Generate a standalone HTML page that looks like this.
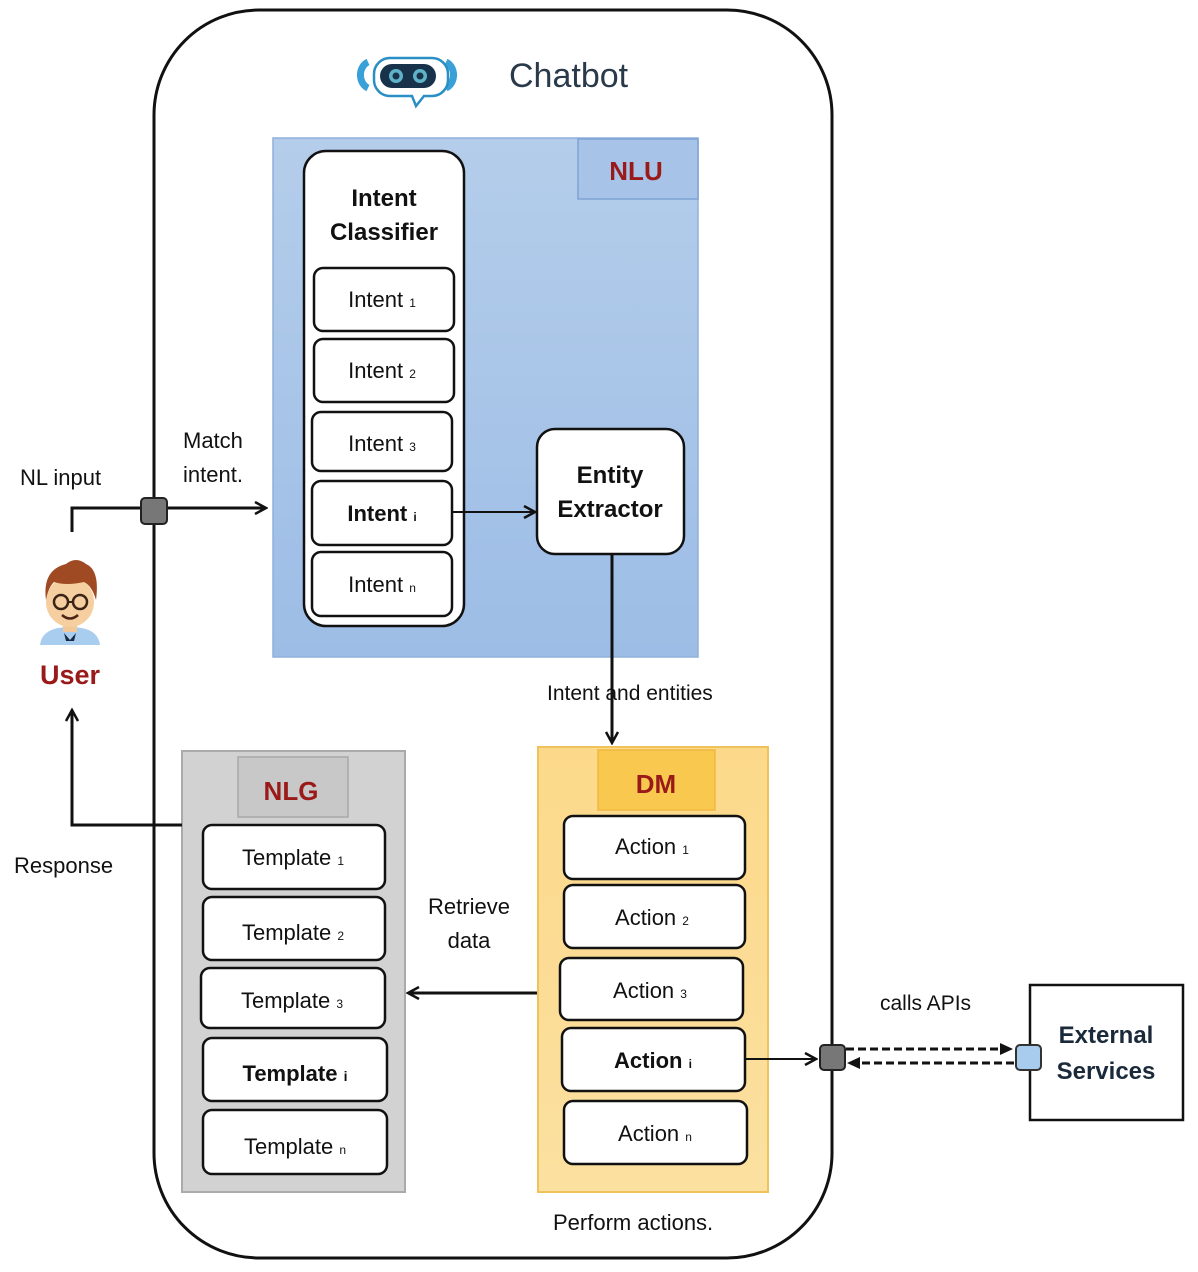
<!DOCTYPE html>
<html><head><meta charset="utf-8"><style>
html,body{margin:0;padding:0;background:#fff;}
svg{display:block;font-family:"Liberation Sans","DejaVu Sans",sans-serif;}
</style></head><body>
<svg width="1198" height="1272" viewBox="0 0 1198 1272" xmlns="http://www.w3.org/2000/svg">
<defs>
<linearGradient id="nlu" x1="0" y1="0" x2="0" y2="1"><stop offset="0" stop-color="#b4cdea"/><stop offset="1" stop-color="#9dbde6"/></linearGradient>
<linearGradient id="dm" x1="0" y1="0" x2="0" y2="1"><stop offset="0" stop-color="#fcd98a"/><stop offset="1" stop-color="#fbe0a0"/></linearGradient>
<marker id="ar" markerWidth="14" markerHeight="14" refX="12" refY="7" orient="auto" markerUnits="userSpaceOnUse"><path d="M1,1 L12,7 L1,13" fill="none" stroke="#111" stroke-width="2.5"/></marker>
<marker id="af" markerWidth="14" markerHeight="12" refX="12" refY="6" orient="auto" markerUnits="userSpaceOnUse"><path d="M0,0 L13,6 L0,12z" fill="#111"/></marker>
</defs>
<rect x="154" y="10" width="678" height="1248" rx="105" fill="#fff" stroke="#111" stroke-width="3"/>
<!-- chatbot icon -->
<g>
<path d="M368,62 a12,14 0 0 0 0,26" fill="none" stroke="#3aa0d8" stroke-width="7"/>
<path d="M446,62 a12,14 0 0 1 0,26" fill="none" stroke="#3aa0d8" stroke-width="7"/>
<path d="M390,58 h42 a16,16 0 0 1 16,16 v6 a16,16 0 0 1 -16,16 h-8 l-8,10 l-4,-10 h-22 a16,16 0 0 1 -16,-16 v-6 a16,16 0 0 1 16,-16z" fill="#fff" stroke="#2a8fc4" stroke-width="2.5"/>
<rect x="380" y="64" width="56" height="24" rx="12" fill="#17324a"/>
<circle cx="396" cy="76" r="7" fill="#5fb3c8"/><circle cx="420" cy="76" r="7" fill="#5fb3c8"/>
<circle cx="396" cy="76" r="3.5" fill="#17324a"/><circle cx="420" cy="76" r="3.5" fill="#17324a"/>
</g>
<text x="509" y="87" font-size="34" fill="#2a3a4a">Chatbot</text>
<!-- NLU -->
<rect x="273" y="138" width="425" height="519" fill="url(#nlu)" stroke="#8fb0dc" stroke-width="1.5"/>
<rect x="578" y="139" width="120" height="60" fill="#a7c3e8" stroke="#7fa3d4" stroke-width="1.5"/>
<text x="636" y="180" font-size="26" font-weight="bold" fill="#9a1a1a" text-anchor="middle">NLU</text>
<rect x="304" y="151" width="160" height="475" rx="22" fill="#fff" stroke="#111" stroke-width="2.5"/>
<text x="384" y="206" font-size="24" font-weight="bold" fill="#111" text-anchor="middle">Intent</text>
<text x="384" y="240" font-size="24" font-weight="bold" fill="#111" text-anchor="middle">Classifier</text>
<g stroke="#111" stroke-width="2.5" fill="#fff">
<rect x="314" y="268" width="140" height="63" rx="9"/>
<rect x="314" y="339" width="140" height="63" rx="9"/>
<rect x="312" y="412" width="140" height="59" rx="9"/>
<rect x="312" y="481" width="140" height="64" rx="9"/>
<rect x="312" y="552" width="140" height="64" rx="9"/>
</g>
<g font-size="22" fill="#111" text-anchor="middle">
<text x="382" y="307">Intent <tspan font-size="12">1</tspan></text>
<text x="382" y="378">Intent <tspan font-size="12">2</tspan></text>
<text x="382" y="451">Intent <tspan font-size="12">3</tspan></text>
<text x="382" y="521" font-weight="bold">Intent <tspan font-size="12">i</tspan></text>
<text x="382" y="592">Intent <tspan font-size="12">n</tspan></text>
</g>
<rect x="537" y="429" width="147" height="125" rx="18" fill="#fff" stroke="#111" stroke-width="2.5"/>
<text x="610" y="483" font-size="24" font-weight="bold" fill="#111" text-anchor="middle">Entity</text>
<text x="610" y="517" font-size="24" font-weight="bold" fill="#111" text-anchor="middle">Extractor</text>
<line x1="453" y1="512" x2="535" y2="512" stroke="#111" stroke-width="2" marker-end="url(#ar)"/>
<line x1="612" y1="554" x2="612" y2="743" stroke="#111" stroke-width="3" marker-end="url(#ar)"/>
<rect x="548" y="678" width="200" height="26" fill="#fff"/>
<line x1="612" y1="676" x2="612" y2="706" stroke="#111" stroke-width="3"/>
<text x="547" y="700" font-size="21" fill="#111">Intent and entities</text>
<!-- DM -->
<rect x="538" y="747" width="230" height="445" fill="url(#dm)" stroke="#f0c25a" stroke-width="2"/>
<rect x="598" y="750" width="117" height="60" fill="#f9c94f" stroke="#f0b840" stroke-width="1.5"/>
<text x="656" y="793" font-size="26" font-weight="bold" fill="#9a1a1a" text-anchor="middle">DM</text>
<g stroke="#111" stroke-width="2.5" fill="#fff">
<rect x="564" y="816" width="181" height="63" rx="9"/>
<rect x="564" y="885" width="181" height="63" rx="9"/>
<rect x="560" y="958" width="183" height="62" rx="9"/>
<rect x="562" y="1028" width="183" height="63" rx="9"/>
<rect x="564" y="1101" width="183" height="63" rx="9"/>
</g>
<g font-size="22" fill="#111" text-anchor="middle">
<text x="652" y="854">Action <tspan font-size="12">1</tspan></text>
<text x="652" y="925">Action <tspan font-size="12">2</tspan></text>
<text x="650" y="998">Action <tspan font-size="12">3</tspan></text>
<text x="653" y="1068" font-weight="bold">Action <tspan font-size="12">i</tspan></text>
<text x="655" y="1141">Action <tspan font-size="12">n</tspan></text>
</g>
<!-- NLG -->
<rect x="182" y="751" width="223" height="441" fill="#d2d2d2" stroke="#aaa" stroke-width="2"/>
<rect x="238" y="757" width="110" height="60" fill="#c8c8c8" stroke="#a8a8a8" stroke-width="1.5"/>
<text x="291" y="800" font-size="26" font-weight="bold" fill="#9a1a1a" text-anchor="middle">NLG</text>
<g stroke="#111" stroke-width="2.5" fill="#fff">
<rect x="203" y="825" width="182" height="64" rx="9"/>
<rect x="203" y="897" width="182" height="63" rx="9"/>
<rect x="201" y="968" width="184" height="60" rx="9"/>
<rect x="203" y="1038" width="184" height="63" rx="9"/>
<rect x="203" y="1110" width="184" height="64" rx="9"/>
</g>
<g font-size="22" fill="#111" text-anchor="middle">
<text x="293" y="865">Template <tspan font-size="12">1</tspan></text>
<text x="293" y="940">Template <tspan font-size="12">2</tspan></text>
<text x="292" y="1008">Template <tspan font-size="12">3</tspan></text>
<text x="295" y="1081" font-weight="bold">Template <tspan font-size="14">i</tspan></text>
<text x="295" y="1154">Template <tspan font-size="12">n</tspan></text>
</g>
<line x1="537" y1="993" x2="408" y2="993" stroke="#111" stroke-width="3" marker-end="url(#ar)"/>
<text x="469" y="914" font-size="22" fill="#111" text-anchor="middle">Retrieve</text>
<text x="469" y="948" font-size="22" fill="#111" text-anchor="middle">data</text>
<!-- user input -->
<polyline points="72,532 72,508 266,508" fill="none" stroke="#111" stroke-width="3" marker-end="url(#ar)"/>
<rect x="141" y="498" width="26" height="26" rx="4" fill="#777" stroke="#222" stroke-width="2"/>
<text x="20" y="485" font-size="22" fill="#111">NL input</text>
<text x="183" y="448" font-size="22" fill="#111">Match</text>
<text x="183" y="482" font-size="22" fill="#111">intent.</text>
<!-- user icon -->
<g>
<path d="M40,645 q2,-18 30,-18 q28,0 30,18z" fill="#a9cdef"/>
<path d="M64,633 l6,7 l6,-7 l-2,8 h-8z" fill="#1a2a44"/>
<rect x="63" y="620" width="14" height="12" fill="#f2c89a"/>
<ellipse cx="70" cy="602" rx="24" ry="25" fill="#f6cfa0"/>
<path d="M46,600 q-4,-30 20,-36 q10,-8 20,0 q14,6 10,36 q-4,-14 -12,-18 q-18,4 -30,0 q-6,6 -8,18z" fill="#a04a24"/>
<circle cx="61" cy="602" r="7" fill="none" stroke="#3a2418" stroke-width="2.5"/>
<circle cx="80" cy="602" r="7" fill="none" stroke="#3a2418" stroke-width="2.5"/>
<line x1="68" y1="602" x2="73" y2="602" stroke="#3a2418" stroke-width="2"/>
<path d="M62,615 q8,7 16,0" fill="none" stroke="#4a2418" stroke-width="2.5"/>
</g>
<text x="70" y="684" font-size="27" font-weight="bold" fill="#9a1a1a" text-anchor="middle">User</text>
<polyline points="182,825 72,825 72,710" fill="none" stroke="#111" stroke-width="3" marker-end="url(#ar)"/>
<text x="14" y="873" font-size="22" fill="#111">Response</text>
<!-- external -->
<line x1="745" y1="1059" x2="816" y2="1059" stroke="#111" stroke-width="2" marker-end="url(#ar)"/>
<line x1="846" y1="1049" x2="1012" y2="1049" stroke="#111" stroke-width="3" stroke-dasharray="8,4" marker-end="url(#af)"/>
<line x1="1014" y1="1063" x2="848" y2="1063" stroke="#111" stroke-width="3" stroke-dasharray="8,4" marker-end="url(#af)"/>
<rect x="820" y="1045" width="25" height="25" rx="4" fill="#777" stroke="#222" stroke-width="2"/>
<rect x="1030" y="985" width="153" height="135" fill="#fff" stroke="#111" stroke-width="2.5"/>
<rect x="1016" y="1045" width="25" height="25" rx="4" fill="#a8ccee" stroke="#333" stroke-width="2"/>
<text x="1106" y="1043" font-size="24" font-weight="bold" fill="#1a2a3a" text-anchor="middle">External</text>
<text x="1106" y="1079" font-size="24" font-weight="bold" fill="#1a2a3a" text-anchor="middle">Services</text>
<text x="880" y="1010" font-size="21" fill="#111">calls APIs</text>
<text x="553" y="1230" font-size="22" fill="#111">Perform actions.</text>
</svg>
</body></html>
